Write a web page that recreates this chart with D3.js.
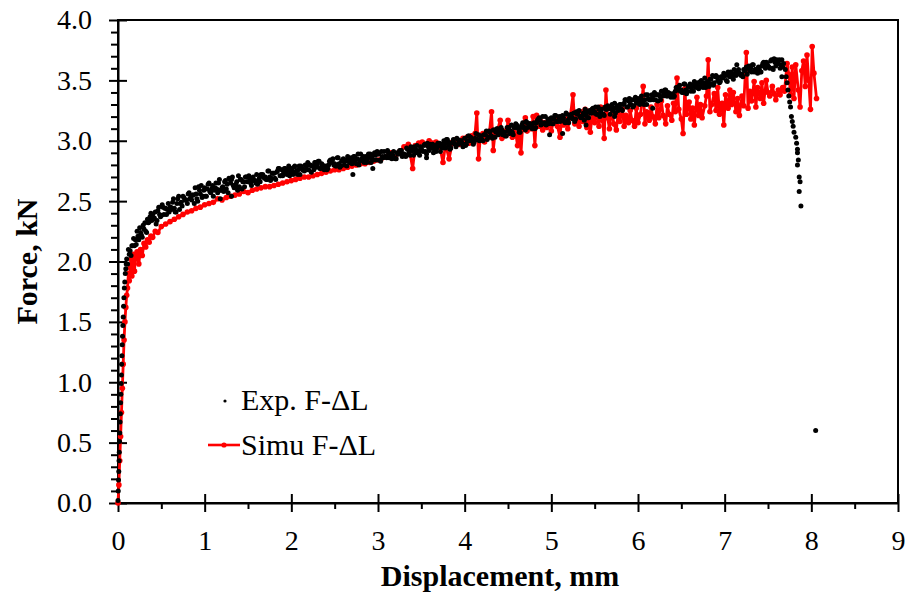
<!DOCTYPE html>
<html>
<head>
<meta charset="utf-8">
<script src="https://cdn.jsdelivr.net/npm/d3@7"></script>
<style>
  body { margin: 0; background: #fff; }
  text { font-family: "Liberation Serif", "Times New Roman", serif; }
</style>
</head>
<body>
<div id="chart"></div>
<script>
const xTicks = [0, 1, 2, 3, 4, 5, 6, 7, 8, 9];
const yTicks = [0, 0.5, 1, 1.5, 2, 2.5, 3, 3.5, 4];
const xMinor = [0.5, 1.5, 2.5, 3.5, 4.5, 5.5, 6.5, 7.5, 8.5];
const yMinor = [0.1, 0.2, 0.3, 0.4, 0.6, 0.7, 0.8, 0.9, 1.1, 1.2, 1.3, 1.4, 1.6, 1.7, 1.8, 1.9,
  2.1, 2.2, 2.3, 2.4, 2.6, 2.7, 2.8, 2.9, 3.1, 3.2, 3.3, 3.4, 3.6, 3.7, 3.8, 3.9];
const legendLabels = ["Exp. F-\u0394L", "Simu F-\u0394L"];
const xTitle = "Displacement, mm";
const yTitle = "Force, kN";

// experimental, elastic rise: [displacement mm, force kN]
const expRise = [
  [0, 0.02], [0.003, 0.1], [0.006, 0.19], [0.009, 0.26], [0.012, 0.35], [0.015, 0.42], [0.018, 0.51],
  [0.021, 0.58], [0.024, 0.67], [0.027, 0.74], [0.03, 0.83], [0.033, 0.9], [0.036, 0.99], [0.039, 1.06],
  [0.042, 1.15], [0.045, 1.22], [0.048, 1.31], [0.052, 1.38], [0.056, 1.47], [0.06, 1.54], [0.064, 1.63],
  [0.068, 1.7], [0.073, 1.78], [0.078, 1.83], [0.084, 1.9], [0.09, 1.94], [0.095, 1.98]
];
// experimental, hardening band (even samples)
const expBand = [
  [0.10,2.02],[0.11,1.98],[0.12,2.10],[0.13,2.06],[0.14,2.09],[0.15,2.05],[0.16,2.13],[0.17,2.13],[0.18,2.19],[0.19,2.13],
  [0.20,2.18],[0.22,2.25],[0.24,2.18],[0.26,2.24],[0.28,2.20],
  [0.30,2.27],[0.32,2.25],[0.34,2.35],[0.36,2.33],[0.38,2.40],
  [0.40,2.39],[0.42,2.36],[0.44,2.31],[0.46,2.42],[0.48,2.39],
  [0.50,2.38],[0.52,2.45],[0.54,2.44],[0.56,2.39],[0.58,2.48],
  [0.60,2.45],[0.62,2.43],[0.64,2.52],[0.66,2.41],[0.68,2.48],
  [0.70,2.54],[0.72,2.48],[0.74,2.46],[0.76,2.53],[0.78,2.51],
  [0.80,2.48],[0.82,2.57],[0.84,2.53],[0.86,2.55],[0.88,2.48],
  [0.90,2.56],[0.92,2.50],[0.94,2.59],[0.96,2.63],[0.98,2.54],
  [1.00,2.61],[1.02,2.54],[1.04,2.64],[1.06,2.58],[1.08,2.60],
  [1.10,2.54],[1.12,2.61],[1.14,2.60],[1.16,2.65],[1.18,2.59],
  [1.20,2.61],[1.22,2.58],[1.24,2.67],[1.26,2.64],[1.28,2.69],
  [1.30,2.65],[1.32,2.70],[1.34,2.61],[1.36,2.64],[1.38,2.59],
  [1.40,2.62],[1.42,2.68],[1.44,2.66],[1.46,2.62],[1.48,2.70],
  [1.50,2.70],[1.52,2.67],[1.54,2.63],[1.56,2.70],[1.58,2.67],
  [1.60,2.72],[1.62,2.67],[1.64,2.66],[1.66,2.71],[1.68,2.70],
  [1.70,2.70],[1.72,2.68],[1.74,2.75],[1.76,2.67],[1.78,2.73],
  [1.80,2.73],[1.82,2.68],[1.84,2.75],[1.86,2.77],[1.88,2.71],
  [1.90,2.71],[1.92,2.77],[1.94,2.74],[1.96,2.76],[1.98,2.71],
  [2.00,2.77],[2.02,2.72],[2.04,2.79],[2.06,2.75],[2.08,2.76],
  [2.10,2.72],[2.12,2.77],[2.14,2.76],[2.16,2.80],[2.18,2.76],
  [2.20,2.76],[2.22,2.80],[2.24,2.79],[2.26,2.76],[2.28,2.82],
  [2.30,2.80],[2.32,2.83],[2.34,2.77],[2.36,2.80],[2.38,2.76],
  [2.40,2.79],[2.42,2.77],[2.44,2.83],[2.46,2.82],[2.48,2.85],
  [2.50,2.81],[2.52,2.79],[2.54,2.86],[2.56,2.78],[2.58,2.83],
  [2.60,2.85],[2.62,2.83],[2.64,2.79],[2.66,2.85],[2.68,2.82],
  [2.70,2.81],[2.72,2.87],[2.74,2.84],[2.76,2.85],[2.78,2.80],
  [2.80,2.89],[2.82,2.85],[2.84,2.82],[2.86,2.87],[2.88,2.85],
  [2.90,2.87],[2.92,2.82],[2.94,2.88],[2.96,2.90],[2.98,2.84],
  [3.00,2.89],[3.02,2.84],[3.04,2.91],[3.06,2.86],[3.08,2.87],
  [3.10,2.86],[3.12,2.90],[3.14,2.89],[3.16,2.85],[3.18,2.91],
  [3.20,2.85],[3.22,2.90],[3.24,2.89],[3.26,2.92],[3.28,2.87],
  [3.30,2.89],[3.32,2.87],[3.34,2.93],[3.36,2.91],[3.38,2.95],
  [3.40,2.92],[3.42,2.95],[3.44,2.90],[3.46,2.92],[3.48,2.88],
  [3.50,2.93],[3.52,2.91],[3.54,2.97],[3.56,2.89],[3.58,2.95],
  [3.60,2.97],[3.62,2.94],[3.64,2.90],[3.66,2.96],[3.68,2.94],
  [3.70,2.96],[3.72,2.91],[3.74,2.97],[3.76,3.00],[3.78,2.94],
  [3.80,3.01],[3.82,2.96],[3.84,2.94],[3.86,2.99],[3.88,2.98],
  [3.90,2.95],[3.92,3.01],[3.94,2.99],[3.96,3.00],[3.98,2.95],
  [4.00,3.02],[4.02,2.97],[4.04,3.04],[4.06,3.00],[4.08,3.01],
  [4.10,2.97],[4.12,3.02],[4.14,3.01],[4.16,3.05],[4.18,3.01],
  [4.20,3.01],[4.22,3.05],[4.24,3.05],[4.26,3.01],[4.28,3.08],
  [4.30,3.04],[4.32,3.02],[4.34,3.09],[4.36,3.07],[4.38,3.10],
  [4.40,3.08],[4.42,3.11],[4.44,3.05],[4.46,3.07],[4.48,3.04],
  [4.50,3.08],[4.52,3.06],[4.54,3.13],[4.56,3.05],[4.58,3.11],
  [4.60,3.13],[4.62,3.10],[4.64,3.07],[4.66,3.13],[4.68,3.11],
  [4.70,3.09],[4.72,3.15],[4.74,3.13],[4.76,3.14],[4.78,3.10],
  [4.80,3.15],[4.82,3.11],[4.84,3.17],[4.86,3.19],[4.88,3.13],
  [4.90,3.20],[4.92,3.15],[4.94,3.13],[4.96,3.18],[4.98,3.16],
  [5.00,3.19],[5.02,3.14],[5.04,3.21],[5.06,3.16],[5.08,3.17],
  [5.10,3.16],[5.12,3.20],[5.14,3.19],[5.16,3.15],[5.18,3.22],
  [5.20,3.15],[5.22,3.20],[5.24,3.19],[5.26,3.23],[5.28,3.18],
  [5.30,3.22],[5.32,3.25],[5.34,3.19],[5.36,3.21],[5.38,3.17],
  [5.40,3.21],[5.42,3.19],[5.44,3.25],[5.46,3.23],[5.48,3.27],
  [5.50,3.24],[5.52,3.22],[5.54,3.28],[5.56,3.20],[5.58,3.26],
  [5.60,3.22],[5.62,3.28],[5.64,3.26],[5.66,3.27],[5.68,3.22],
  [5.70,3.30],[5.72,3.27],[5.74,3.23],[5.76,3.29],[5.78,3.27],
  [5.80,3.30],[5.82,3.25],[5.84,3.31],[5.86,3.34],[5.88,3.28],
  [5.90,3.35],[5.92,3.30],[5.94,3.28],[5.96,3.34],[5.98,3.32],
  [6.00,3.35],[6.02,3.30],[6.04,3.37],[6.06,3.33],[6.08,3.34],
  [6.10,3.30],[6.12,3.35],[6.14,3.34],[6.16,3.38],[6.18,3.34],
  [6.20,3.34],[6.22,3.38],[6.24,3.38],[6.26,3.34],[6.28,3.41],
  [6.30,3.39],[6.32,3.42],[6.34,3.37],[6.36,3.39],[6.38,3.36],
  [6.40,3.39],[6.42,3.37],[6.44,3.44],[6.46,3.42],[6.48,3.46],
  [6.50,3.42],[6.52,3.40],[6.54,3.47],[6.56,3.39],[6.58,3.45],
  [6.60,3.47],[6.62,3.44],[6.64,3.41],[6.66,3.47],[6.68,3.45],
  [6.70,3.43],[6.72,3.49],[6.74,3.47],[6.76,3.48],[6.78,3.44],
  [6.80,3.49],[6.82,3.45],[6.84,3.51],[6.86,3.54],[6.88,3.48],
  [6.90,3.54],[6.92,3.50],[6.94,3.48],[6.96,3.53],[6.98,3.52],
  [7.00,3.54],[7.02,3.50],[7.04,3.57],[7.06,3.53],[7.08,3.55],
  [7.10,3.51],[7.12,3.56],[7.14,3.55],[7.16,3.59],[7.18,3.55],
  [7.20,3.55],[7.22,3.59],[7.24,3.59],[7.26,3.55],[7.28,3.62],
  [7.30,3.60],[7.32,3.63],[7.34,3.57],[7.36,3.59],[7.38,3.56],
  [7.40,3.59],[7.42,3.57],[7.44,3.64],[7.46,3.62],[7.48,3.65],
  [7.50,3.62],[7.52,3.60],[7.54,3.67],[7.56,3.59],[7.58,3.65],
  [7.60,3.67],[7.62,3.64],[7.64,3.60],[7.66,3.67],[7.68,3.64]
];
// experimental, hardening band (odd samples)
const expBandOdd = [
  [0.21,2.14],[0.23,2.21],[0.25,2.28],[0.27,2.22],[0.29,2.30],
  [0.31,2.32],[0.33,2.24],[0.35,2.32],[0.37,2.37],[0.39,2.34],
  [0.41,2.35],[0.43,2.41],[0.45,2.34],[0.47,2.45],[0.49,2.37],
  [0.51,2.47],[0.53,2.39],[0.55,2.44],[0.57,2.43],[0.59,2.41],
  [0.61,2.45],[0.63,2.49],[0.65,2.44],[0.67,2.41],[0.69,2.52],
  [0.71,2.43],[0.73,2.49],[0.75,2.54],[0.77,2.51],[0.79,2.51],
  [0.81,2.56],[0.83,2.52],[0.85,2.51],[0.87,2.55],[0.89,2.61],
  [0.91,2.52],[0.93,2.62],[0.95,2.56],[0.97,2.53],[0.99,2.59],
  [1.01,2.54],[1.03,2.60],[1.05,2.65],[1.07,2.57],[1.09,2.63],
  [1.11,2.59],[1.13,2.65],[1.15,2.57],[1.17,2.68],[1.19,2.59],
  [1.21,2.62],[1.23,2.66],[1.25,2.60],[1.27,2.57],[1.29,2.68],
  [1.31,2.68],[1.33,2.63],[1.35,2.62],[1.37,2.66],[1.39,2.71],
  [1.41,2.68],[1.43,2.60],[1.45,2.66],[1.47,2.70],[1.49,2.66],
  [1.51,2.71],[1.53,2.65],[1.55,2.69],[1.57,2.67],[1.59,2.65],
  [1.61,2.64],[1.63,2.69],[1.65,2.72],[1.67,2.72],[1.69,2.69],
  [1.71,2.68],[1.73,2.75],[1.75,2.70],[1.77,2.69],[1.79,2.73],
  [1.81,2.69],[1.83,2.74],[1.85,2.77],[1.87,2.71],[1.89,2.76],
  [1.91,2.73],[1.93,2.77],[1.95,2.72],[1.97,2.79],[1.99,2.73],
  [2.01,2.75],[2.03,2.78],[2.05,2.74],[2.07,2.72],[2.09,2.79],
  [2.11,2.79],[2.13,2.76],[2.15,2.75],[2.17,2.79],[2.19,2.82],
  [2.21,2.80],[2.23,2.74],[2.25,2.79],[2.27,2.82],[2.29,2.78],
  [2.31,2.83],[2.33,2.77],[2.35,2.81],[2.37,2.79],[2.39,2.77],
  [2.41,2.76],[2.43,2.80],[2.45,2.84],[2.47,2.83],[2.49,2.80],
  [2.51,2.79],[2.53,2.86],[2.55,2.81],[2.57,2.79],[2.59,2.84],
  [2.61,2.80],[2.63,2.84],[2.65,2.87],[2.67,2.82],[2.69,2.86],
  [2.71,2.83],[2.73,2.87],[2.75,2.81],[2.77,2.89],[2.79,2.83],
  [2.81,2.85],[2.83,2.87],[2.85,2.83],[2.87,2.82],[2.89,2.89],
  [2.91,2.89],[2.93,2.85],[2.95,2.84],[2.97,2.88],[2.99,2.91],
  [3.01,2.89],[3.03,2.83],[3.05,2.87],[3.07,2.91],[3.09,2.87],
  [3.11,2.92],[3.13,2.86],[3.15,2.89],[3.17,2.88],[3.19,2.86],
  [3.21,2.85],[3.23,2.89],[3.25,2.92],[3.27,2.92],[3.29,2.89],
  [3.31,2.88],[3.33,2.94],[3.35,2.89],[3.37,2.88],[3.39,2.92],
  [3.41,2.88],[3.43,2.93],[3.45,2.96],[3.47,2.90],[3.49,2.95],
  [3.51,2.92],[3.53,2.96],[3.55,2.91],[3.57,2.98],[3.59,2.92],
  [3.61,2.94],[3.63,2.97],[3.65,2.93],[3.67,2.91],[3.69,2.98],
  [3.71,2.98],[3.73,2.95],[3.75,2.94],[3.77,2.97],[3.79,3.01],
  [3.81,2.99],[3.83,2.93],[3.85,2.98],[3.87,3.01],[3.89,2.97],
  [3.91,3.02],[3.93,2.97],[3.95,3.00],[3.97,2.98],[3.99,2.97],
  [4.01,2.96],[4.03,3.00],[4.05,3.04],[4.07,3.03],[4.09,3.00],
  [4.11,2.99],[4.13,3.06],[4.15,3.01],[4.17,3.00],[4.19,3.04],
  [4.21,3.00],[4.23,3.05],[4.25,3.08],[4.27,3.03],[4.29,3.07],
  [4.31,3.04],[4.33,3.09],[4.35,3.03],[4.37,3.10],[4.39,3.05],
  [4.41,3.07],[4.43,3.09],[4.45,3.06],[4.47,3.04],[4.49,3.11],
  [4.51,3.11],[4.53,3.08],[4.55,3.07],[4.57,3.11],[4.59,3.14],
  [4.61,3.12],[4.63,3.07],[4.65,3.11],[4.67,3.15],[4.69,3.11],
  [4.71,3.16],[4.73,3.11],[4.75,3.14],[4.77,3.13],[4.79,3.11],
  [4.81,3.10],[4.83,3.15],[4.85,3.18],[4.87,3.17],[4.89,3.15],
  [4.91,3.14],[4.93,3.20],[4.95,3.15],[4.97,3.14],[4.99,3.18],
  [5.01,3.14],[5.03,3.18],[5.05,3.21],[5.07,3.16],[5.09,3.20],
  [5.11,3.17],[5.13,3.21],[5.15,3.16],[5.17,3.23],[5.19,3.17],
  [5.21,3.19],[5.23,3.22],[5.25,3.18],[5.27,3.16],[5.29,3.24],
  [5.31,3.24],[5.33,3.20],[5.35,3.20],[5.37,3.23],[5.39,3.26],
  [5.41,3.24],[5.43,3.19],[5.45,3.23],[5.47,3.26],[5.49,3.23],
  [5.51,3.28],[5.53,3.22],[5.55,3.26],[5.57,3.24],[5.59,3.22],
  [5.61,3.21],[5.63,3.26],[5.65,3.29],[5.67,3.28],[5.69,3.26],
  [5.71,3.25],[5.73,3.31],[5.75,3.27],[5.77,3.25],[5.79,3.30],
  [5.81,3.26],[5.83,3.30],[5.85,3.34],[5.87,3.28],[5.89,3.33],
  [5.91,3.30],[5.93,3.34],[5.95,3.29],[5.97,3.36],[5.99,3.31],
  [6.01,3.33],[6.03,3.35],[6.05,3.32],[6.07,3.30],[6.09,3.38],
  [6.11,3.38],[6.13,3.34],[6.15,3.34],[6.17,3.37],[6.19,3.40],
  [6.21,3.38],[6.23,3.33],[6.25,3.37],[6.27,3.41],[6.29,3.37],
  [6.31,3.42],[6.33,3.37],[6.35,3.40],[6.37,3.39],[6.39,3.37],
  [6.41,3.36],[6.43,3.41],[6.45,3.44],[6.47,3.44],[6.49,3.41],
  [6.51,3.40],[6.53,3.47],[6.55,3.42],[6.57,3.41],[6.59,3.45],
  [6.61,3.41],[6.63,3.46],[6.65,3.49],[6.67,3.44],[6.69,3.48],
  [6.71,3.45],[6.73,3.50],[6.75,3.44],[6.77,3.52],[6.79,3.46],
  [6.81,3.48],[6.83,3.51],[6.85,3.47],[6.87,3.46],[6.89,3.53],
  [6.91,3.53],[6.93,3.50],[6.95,3.49],[6.97,3.53],[6.99,3.56],
  [7.01,3.54],[7.03,3.49],[7.05,3.54],[7.07,3.57],[7.09,3.54],
  [7.11,3.59],[7.13,3.54],[7.15,3.57],[7.17,3.56],[7.19,3.54],
  [7.21,3.53],[7.23,3.58],[7.25,3.61],[7.27,3.61],[7.29,3.58],
  [7.31,3.57],[7.33,3.63],[7.35,3.59],[7.37,3.57],[7.39,3.61],
  [7.41,3.57],[7.43,3.62],[7.45,3.65],[7.47,3.60],[7.49,3.64],
  [7.51,3.61],[7.53,3.66],[7.55,3.60],[7.57,3.68],[7.59,3.62],
  [7.61,3.64],[7.63,3.67],[7.65,3.63],[7.67,3.61]
];
// scattered points below the band
const expStray = [
  [1.18, 2.52], [1.31, 2.54], [2.71, 2.72], [2.94, 2.77], [3.56, 2.86], [4.98, 3.05],
  [5.13, 3.06], [5.40, 3.13], [5.73, 3.20], [6.17, 3.27], [7.14, 3.63], [7.66, 3.53]
];
// specimen failure
const expDrop = [
  [7.70, 3.59], [7.71, 3.53], [7.72, 3.48], [7.73, 3.42], [7.74, 3.37], [7.75, 3.32], [7.76, 3.28],
  [7.77, 3.20], [7.78, 3.16], [7.79, 3.12], [7.80, 3.07], [7.82, 3.03], [7.83, 2.98], [7.84, 2.93],
  [7.84, 2.90], [7.85, 2.84], [7.84, 2.80], [7.86, 2.70], [7.87, 2.66], [7.86, 2.58], [7.88, 2.46],
  [8.05, 0.60]
];

// simulation: [displacement mm, force kN]
const simPoints = [
  [0, 0], [0.01, 0.15], [0.02, 0.35], [0.03, 0.55], [0.04, 0.75], [0.05, 0.95], [0.06, 1.15], [0.07, 1.35],
  [0.08, 1.50], [0.09, 1.62], [0.10, 1.72], [0.11, 1.78], [0.12, 1.90], [0.13, 1.84], [0.14, 1.95],
  [0.15, 2.02], [0.16, 1.88], [0.17, 1.97], [0.18, 2.06], [0.19, 1.92], [0.20, 2.02], [0.22, 2.08],
  [0.24, 1.98], [0.26, 2.10], [0.28, 2.05], [0.30, 2.15], [0.32, 2.12], [0.34, 2.18], [0.36, 2.16],
  [0.38, 2.21], [0.40, 2.20], [0.43, 2.25], [0.46, 2.24], [0.50, 2.29], [0.55, 2.31], [0.60, 2.33],
  [0.65, 2.35], [0.70, 2.37], [0.75, 2.39], [0.80, 2.41], [0.85, 2.42], [0.90, 2.44], [0.95, 2.45],
  [1.00, 2.47], [1.05, 2.48], [1.10, 2.49], [1.15, 2.52], [1.20, 2.51], [1.25, 2.53], [1.30, 2.54],
  [1.35, 2.55], [1.40, 2.56], [1.45, 2.58], [1.50, 2.57], [1.55, 2.59], [1.60, 2.60], [1.65, 2.61],
  [1.70, 2.62], [1.75, 2.62], [1.80, 2.63], [1.85, 2.64], [1.90, 2.65], [1.95, 2.66], [2.00, 2.67],
  [2.05, 2.68], [2.10, 2.69], [2.15, 2.70], [2.20, 2.70], [2.25, 2.71], [2.30, 2.72], [2.35, 2.73],
  [2.40, 2.74], [2.45, 2.75], [2.50, 2.76], [2.55, 2.76], [2.60, 2.77], [2.65, 2.78], [2.70, 2.79],
  [2.75, 2.80], [2.80, 2.81], [2.85, 2.81], [2.90, 2.82], [2.95, 2.83], [3.00, 2.84], [3.05, 2.86],
  [3.10, 2.87], [3.15, 2.90], [3.20, 2.86], [3.25, 2.91], [3.30, 2.95], [3.35, 2.97], [3.40, 2.77],
  [3.43, 2.96], [3.47, 2.98], [3.51, 2.99], [3.55, 2.97], [3.59, 3.00], [3.63, 2.98], [3.67, 2.99],
  [3.71, 2.96], [3.75, 2.82], [3.78, 2.97], [3.82, 2.85], [3.86, 2.99], [3.90, 3.01], [3.94, 2.97],
  [3.98, 3.02], [4.00, 3.00], [4.03, 3.03], [4.05, 2.98], [4.08, 3.04], [4.10, 3.01], [4.12, 3.06],
  [4.14, 3.23], [4.16, 2.85], [4.18, 3.02], [4.21, 3.06], [4.23, 2.99], [4.26, 3.07], [4.28, 3.03],
  [4.31, 3.24], [4.33, 2.92], [4.35, 3.06], [4.38, 3.09], [4.41, 3.17], [4.43, 3.02], [4.45, 3.08],
  [4.48, 3.05], [4.50, 3.17], [4.52, 3.07], [4.55, 3.03], [4.57, 3.12], [4.59, 3.06], [4.61, 2.96],
  [4.63, 3.10], [4.65, 2.90], [4.67, 3.13], [4.70, 3.19], [4.72, 3.08], [4.74, 3.14], [4.77, 3.10],
  [4.79, 3.20], [4.81, 2.96], [4.83, 3.21], [4.86, 3.12], [4.88, 3.16], [4.90, 3.09], [4.93, 3.15],
  [4.95, 3.11], [4.98, 3.17], [5.00, 3.08], [5.02, 3.15], [5.05, 3.19], [5.07, 3.12], [5.10, 3.03],
  [5.12, 3.20], [5.14, 3.13], [5.17, 3.18], [5.19, 3.10], [5.22, 3.21], [5.25, 3.38], [5.27, 3.14],
  [5.29, 3.22], [5.32, 3.12], [5.34, 3.24], [5.36, 3.16], [5.39, 3.26], [5.41, 3.11], [5.43, 3.23],
  [5.45, 3.07], [5.48, 3.26], [5.50, 3.15], [5.52, 3.24], [5.55, 3.12], [5.57, 3.28], [5.59, 3.17],
  [5.61, 3.02], [5.63, 3.42], [5.65, 3.19], [5.67, 3.10], [5.70, 3.27], [5.72, 3.14], [5.75, 3.09],
  [5.77, 3.22], [5.79, 3.16], [5.82, 3.26], [5.84, 3.12], [5.86, 3.21], [5.89, 3.15], [5.91, 3.25],
  [5.93, 3.17], [5.96, 3.12], [5.98, 3.27], [6.00, 3.15], [6.03, 3.22], [6.06, 3.45], [6.08, 3.14],
  [6.10, 3.24], [6.13, 3.17], [6.15, 3.28], [6.17, 3.20], [6.20, 3.14], [6.22, 3.30], [6.24, 3.19],
  [6.27, 3.33], [6.29, 3.21], [6.32, 3.14], [6.34, 3.29], [6.36, 3.22], [6.39, 3.17], [6.41, 3.31],
  [6.43, 3.24], [6.45, 3.52], [6.47, 3.26], [6.50, 3.18], [6.52, 3.06], [6.54, 3.43], [6.56, 3.22],
  [6.59, 3.32], [6.61, 3.18], [6.63, 3.27], [6.65, 3.13], [6.68, 3.36], [6.70, 3.21], [6.72, 3.30],
  [6.74, 3.19], [6.77, 3.29], [6.79, 3.37], [6.81, 3.67], [6.83, 3.24], [6.85, 3.30], [6.88, 3.39],
  [6.90, 3.25], [6.92, 3.44], [6.94, 3.22], [6.97, 3.31], [6.99, 3.13], [7.01, 3.38], [7.04, 3.27],
  [7.06, 3.42], [7.08, 3.30], [7.10, 3.40], [7.13, 3.24], [7.15, 3.35], [7.17, 3.21], [7.20, 3.37],
  [7.22, 3.29], [7.25, 3.73], [7.27, 3.27], [7.29, 3.41], [7.31, 3.33], [7.34, 3.49], [7.36, 3.28],
  [7.38, 3.44], [7.41, 3.35], [7.43, 3.48], [7.45, 3.31], [7.48, 3.50], [7.50, 3.40], [7.52, 3.37],
  [7.55, 3.45], [7.57, 3.39], [7.59, 3.34], [7.62, 3.42], [7.64, 3.38], [7.67, 3.44], [7.69, 3.41],
  [7.72, 3.64], [7.74, 3.55], [7.76, 3.38], [7.78, 3.61], [7.80, 3.35], [7.82, 3.63], [7.85, 3.42],
  [7.87, 3.28], [7.89, 3.58], [7.91, 3.66], [7.93, 3.45], [7.95, 3.71], [7.97, 3.50], [7.99, 3.26],
  [8.01, 3.78], [8.03, 3.56], [8.06, 3.35]
];

const width = 906;
const height = 597;
const plot = { left: 118, right: 898, top: 20, bottom: 503 };
const colors = { exp: "#000000", sim: "#ff0000", axis: "#000000" };

const x = d3.scaleLinear().domain([0, 9]).range([plot.left, plot.right]);
const y = d3.scaleLinear().domain([0, 4]).range([plot.bottom, plot.top]);

const svg = d3
  .select("#chart")
  .append("svg")
  .attr("width", width)
  .attr("height", height);

// frame
svg
  .append("rect")
  .attr("x", plot.left)
  .attr("y", plot.top)
  .attr("width", plot.right - plot.left)
  .attr("height", plot.bottom - plot.top)
  .attr("fill", "none")
  .attr("stroke", colors.axis)
  .attr("stroke-width", 2);

// minor ticks (outside only)
svg
  .append("g")
  .attr("transform", `translate(0,${plot.bottom})`)
  .call(d3.axisBottom(x).tickValues(xMinor).tickSize(6).tickSizeOuter(0).tickFormat(""))
  .call((g) => g.select(".domain").remove())
  .call((g) => g.selectAll("line").attr("stroke-width", 2));

svg
  .append("g")
  .attr("transform", `translate(${plot.left},0)`)
  .call(d3.axisLeft(y).tickValues(yMinor).tickSize(7).tickSizeOuter(0).tickFormat(""))
  .call((g) => g.select(".domain").remove())
  .call((g) => g.selectAll("line").attr("stroke-width", 2));

// major ticks cross the axis line
const xAxis = svg
  .append("g")
  .attr("transform", `translate(0,${plot.bottom})`)
  .call(d3.axisBottom(x).tickValues(xTicks).tickSize(9).tickSizeOuter(0).tickPadding(18));
xAxis.select(".domain").attr("stroke-width", 2);
xAxis.selectAll(".tick line").attr("y1", -9).attr("stroke-width", 2);
xAxis
  .selectAll(".tick text")
  .attr("font-size", 28)
  .attr("font-family", "Liberation Serif, Times New Roman, serif")
  .attr("fill", "#000");

const yAxis = svg
  .append("g")
  .attr("transform", `translate(${plot.left},0)`)
  .call(
    d3.axisLeft(y).tickValues(yTicks).tickSize(9).tickSizeOuter(0).tickPadding(17).tickFormat(d3.format(".1f"))
  );
yAxis.select(".domain").attr("stroke-width", 2);
yAxis.selectAll(".tick line").attr("x1", 9).attr("stroke-width", 2);
yAxis
  .selectAll(".tick text")
  .attr("font-size", 28)
  .attr("font-family", "Liberation Serif, Times New Roman, serif")
  .attr("fill", "#000");

// simulation curve
const line = d3
  .line()
  .x((d) => x(d[0]))
  .y((d) => y(d[1]));

const dataGroup = svg.append("g");

dataGroup
  .append("path")
  .datum(simPoints)
  .attr("d", line)
  .attr("fill", "none")
  .attr("stroke", colors.sim)
  .attr("stroke-width", 2.8)
  .attr("stroke-linejoin", "round");

dataGroup
  .selectAll(".simDot")
  .data(simPoints)
  .enter()
  .append("circle")
  .attr("class", "simDot")
  .attr("cx", (d) => x(d[0]))
  .attr("cy", (d) => y(d[1]))
  .attr("r", 2.8)
  .attr("fill", colors.sim);

// experimental points
const expPoints = expRise.concat(expBand, expBandOdd, expStray, expDrop);
dataGroup
  .selectAll(".expDot")
  .data(expPoints)
  .enter()
  .append("circle")
  .attr("class", "expDot")
  .attr("cx", (d) => x(d[0]))
  .attr("cy", (d) => y(d[1]))
  .attr("r", 2.5)
  .attr("fill", colors.exp);

// legend
const legend = svg.append("g");
legend
  .append("circle")
  .attr("cx", 225)
  .attr("cy", 401)
  .attr("r", 1.6)
  .attr("fill", colors.exp);
legend
  .append("line")
  .attr("x1", 208)
  .attr("x2", 240)
  .attr("y1", 445)
  .attr("y2", 445)
  .attr("stroke", colors.sim)
  .attr("stroke-width", 2.6);
legend
  .append("circle")
  .attr("cx", 224)
  .attr("cy", 445)
  .attr("r", 2.6)
  .attr("fill", colors.sim);
legend
  .selectAll("text")
  .data(legendLabels)
  .enter()
  .append("text")
  .attr("x", 241)
  .attr("y", (d, i) => 410 + i * 45)
  .attr("font-size", 30)
  .text((d) => d);

// axis titles
svg
  .append("text")
  .attr("x", 500)
  .attr("y", 586)
  .attr("text-anchor", "middle")
  .attr("font-size", 30)
  .attr("font-weight", "bold")
  .text(xTitle);

svg
  .append("text")
  .attr("transform", `translate(37,${(plot.top + plot.bottom) / 2}) rotate(-90)`)
  .attr("text-anchor", "middle")
  .attr("font-size", 30)
  .attr("font-weight", "bold")
  .text(yTitle);
</script>
</body>
</html>
